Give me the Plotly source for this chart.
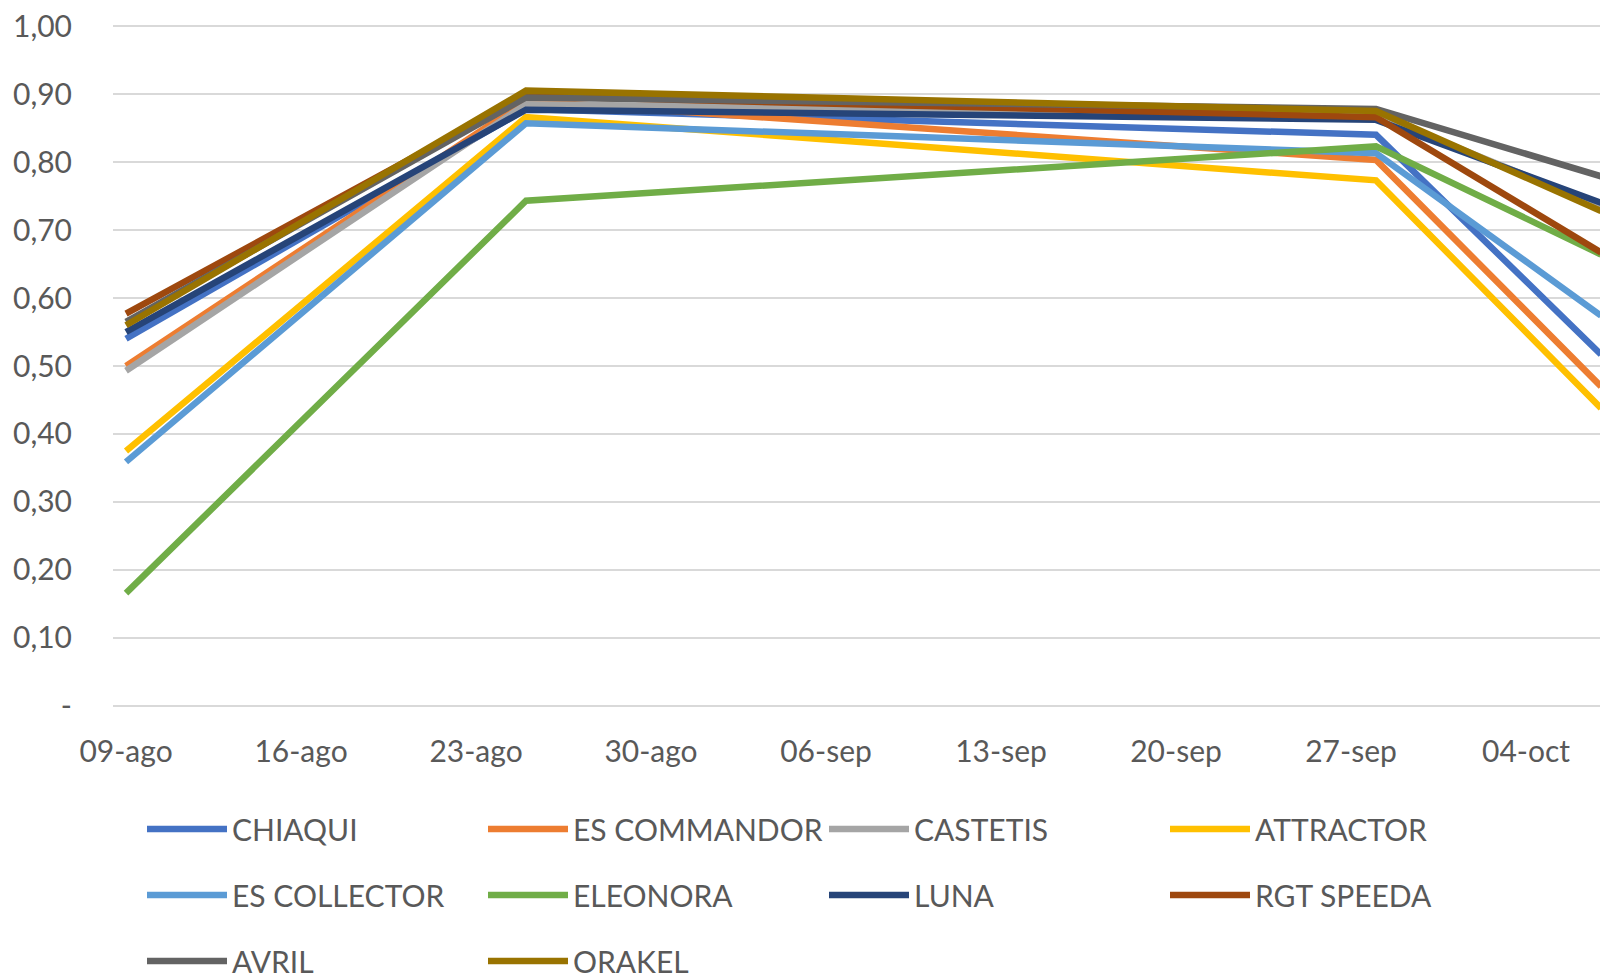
import plotly.graph_objects as go

dates = ["2021-08-09", "2021-08-25", "2021-09-28", "2021-10-07"]

CHIAQUI = [0.540, 0.878, 0.840, 0.517]
ES_COMMANDOR = [0.500, 0.890, 0.803, 0.470]
CASTETIS = [0.493, 0.885, 0.870, 0.735]
ATTRACTOR = [0.375, 0.866, 0.773, 0.438]
ES_COLLECTOR = [0.359, 0.857, 0.813, 0.574]
ELEONORA = [0.166, 0.743, 0.823, 0.664]
LUNA = [0.550, 0.877, 0.862, 0.740]
RGT_SPEEDA = [0.577, 0.897, 0.866, 0.667]
AVRIL = [0.565, 0.895, 0.878, 0.779]
ORAKEL = [0.560, 0.905, 0.875, 0.728]

series_names = ["CHIAQUI", "ES COMMANDOR", "CASTETIS", "ATTRACTOR", "ES COLLECTOR",
                "ELEONORA", "LUNA", "RGT SPEEDA", "AVRIL", "ORAKEL"]
series_values = [CHIAQUI, ES_COMMANDOR, CASTETIS, ATTRACTOR, ES_COLLECTOR,
                 ELEONORA, LUNA, RGT_SPEEDA, AVRIL, ORAKEL]
colors = ["#4472C4", "#ED7D31", "#A5A5A5", "#FFC000", "#5B9BD5",
          "#70AD47", "#264478", "#9E480E", "#636363", "#997300"]

x_tick_vals = ["2021-08-09", "2021-08-16", "2021-08-23", "2021-08-30", "2021-09-06",
               "2021-09-13", "2021-09-20", "2021-09-27", "2021-10-04"]
x_tick_text = ["09-ago", "16-ago", "23-ago", "30-ago", "06-sep",
               "13-sep", "20-sep", "27-sep", "04-oct"]
y_tick_vals = [0, 0.1, 0.2, 0.3, 0.4, 0.5, 0.6, 0.7, 0.8, 0.9, 1.0]
y_tick_text = ["-", "0,10", "0,20", "0,30", "0,40", "0,50", "0,60", "0,70", "0,80", "0,90", "1,00"]

legend_rows = ["legend", "legend", "legend", "legend",
               "legend2", "legend2", "legend2", "legend2",
               "legend3", "legend3"]

FONT = "Lato"
TXT = "#595959"

fig = go.Figure()
for name, vals, col, lg in zip(series_names, series_values, colors, legend_rows):
    fig.add_trace(go.Scatter(
        x=dates, y=vals, name=name, mode="lines",
        line=dict(color=col, width=6.5),
        legend=lg,
    ))

# page body has an 8px default margin, so the figure is sized to fit the window
W, H = 1600, 965
left, top, bottom = 105, 16, 700

leg_common = dict(
    orientation="h", xref="container", yref="container",
    xanchor="left", yanchor="middle",
    entrywidth=246, entrywidthmode="pixels",
    itemwidth=80, font=dict(family=FONT, size=30, color=TXT),
    bgcolor="rgba(0,0,0,0)", traceorder="normal",
    itemclick=False, itemdoubleclick=False,
)
legx = 134 / W

fig.update_layout(
    template="none",
    width=W, height=H,
    margin=dict(l=left, r=0, t=top, b=H - bottom, pad=0, autoexpand=False),
    paper_bgcolor="white", plot_bgcolor="white",
    font=dict(family=FONT, size=30, color=TXT),
    showlegend=True,
    legend=dict(leg_common, x=legx, y=1 - 821 / H),
    legend2=dict(leg_common, x=legx, y=1 - 887 / H),
    legend3=dict(leg_common, x=legx, y=1 - 953 / H),
    xaxis=dict(
        type="date", automargin=False,
        range=["2021-08-08 11:30", "2021-10-07 06:43"],
        tickvals=x_tick_vals, ticktext=x_tick_text,
        showgrid=False, zeroline=False, showline=False,
        ticks="", ticklabelstandoff=23,
        ticklabeloverflow="allow",
        tickfont=dict(family=FONT, size=30, color=TXT),
    ),
    yaxis=dict(
        automargin=False,
        range=[-0.003, 1.003],
        tickvals=y_tick_vals, ticktext=y_tick_text,
        showgrid=True, gridcolor="#D9D9D9", gridwidth=1.5,
        zeroline=False, showline=False, ticks="",
        ticklabelstandoff=40,
        ticklabeloverflow="allow",
        tickfont=dict(family=FONT, size=30, color=TXT),
    ),
)

fig.write_html("out.html")
